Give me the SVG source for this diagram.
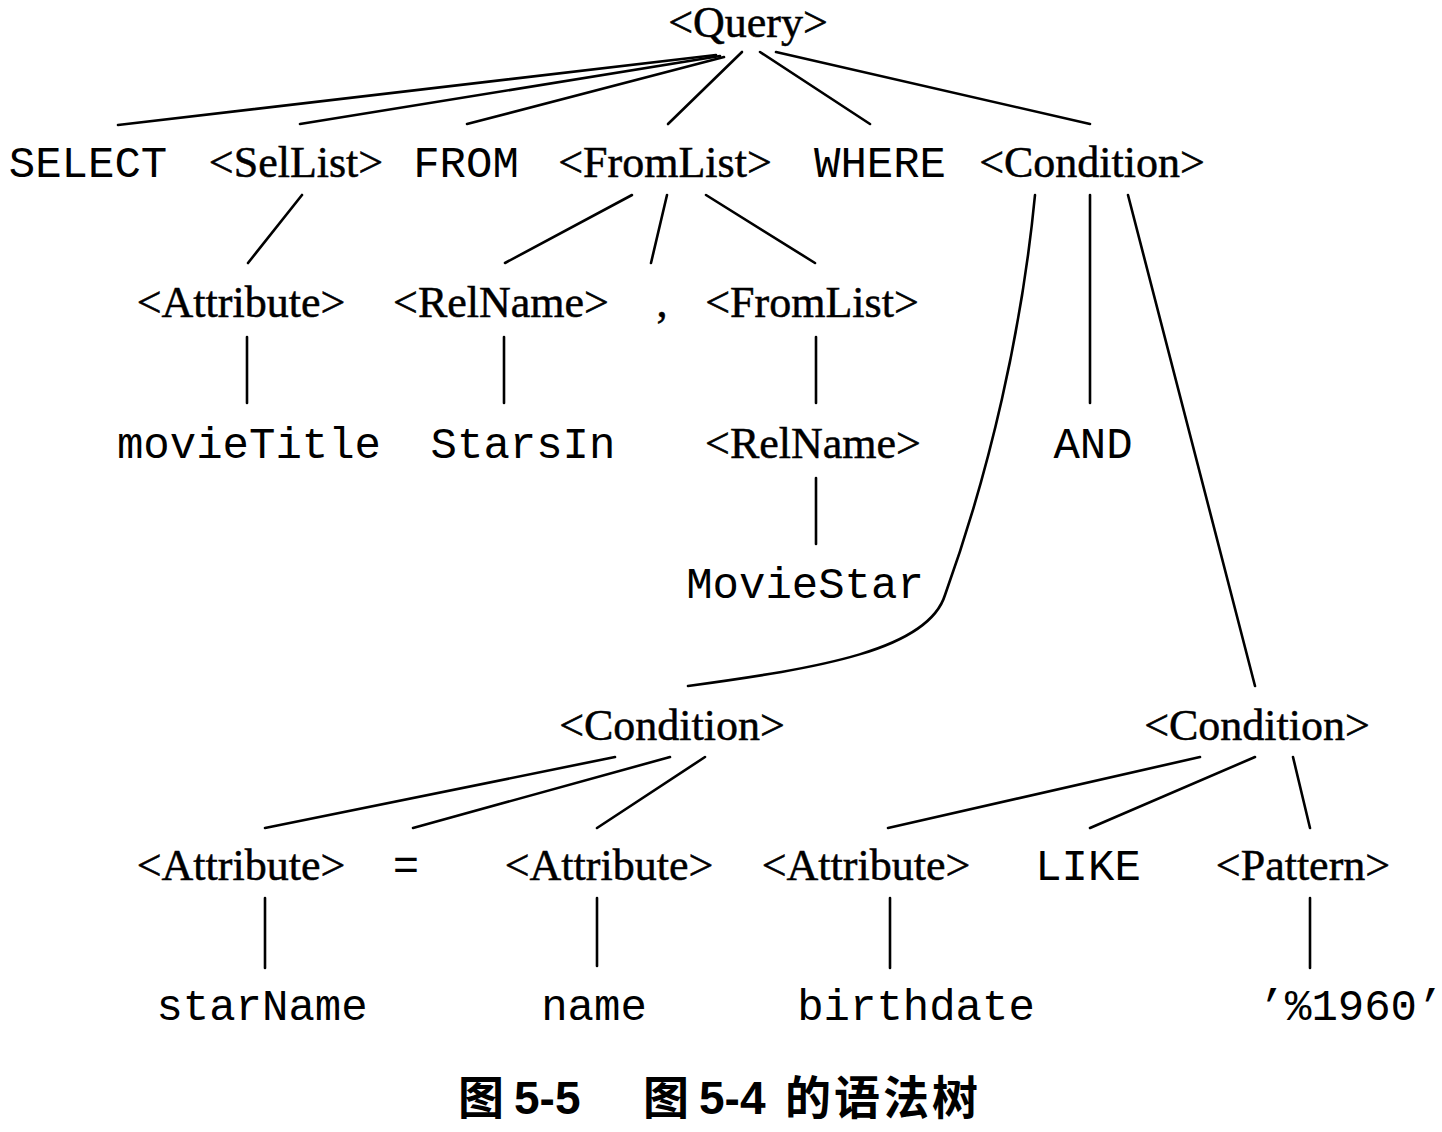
<svg xmlns="http://www.w3.org/2000/svg" width="1442" height="1132" viewBox="0 0 1442 1132">
<style>
.s{font-family:"Liberation Serif","Times New Roman",serif;font-size:44px;fill:#000;stroke:#000;stroke-width:0.5;text-anchor:middle}
.m{font-family:"Liberation Mono","Courier New",monospace;font-size:44px;fill:#000;text-anchor:middle}
.e line,.e path{stroke:#000;stroke-width:2.6;fill:none;stroke-linecap:round}
.c{font-family:"Liberation Sans","Noto Sans CJK SC",sans-serif;font-size:46px;font-weight:bold;fill:#000}
</style>
<rect width="1442" height="1132" fill="#fff"/>
<g id="edges" class="e">
<line x1="716" y1="55" x2="118" y2="125"/>
<line x1="720" y1="56" x2="300" y2="124"/>
<line x1="724" y1="57" x2="467" y2="124"/>
<line x1="742" y1="52" x2="668" y2="124"/>
<line x1="760" y1="52" x2="870" y2="124"/>
<line x1="776" y1="52" x2="1090" y2="124"/>
<line x1="302" y1="195" x2="248" y2="263"/>
<line x1="632" y1="195" x2="505" y2="263"/>
<line x1="667" y1="195" x2="651" y2="263"/>
<line x1="706" y1="195" x2="815" y2="263"/>
<path d="M1035,195 C1022,330 990,470 945,595 C928,650 820,668 688,686"/>
<line x1="1090" y1="195" x2="1090" y2="403"/>
<line x1="1128" y1="195" x2="1255" y2="686"/>
<line x1="247" y1="337" x2="247" y2="403"/>
<line x1="504" y1="337" x2="504" y2="403"/>
<line x1="816" y1="337" x2="816" y2="403"/>
<line x1="816" y1="478" x2="816" y2="544"/>
<line x1="615" y1="757" x2="265" y2="828"/>
<line x1="670" y1="757" x2="413" y2="828"/>
<line x1="705" y1="757" x2="597" y2="828"/>
<line x1="1200" y1="757" x2="888" y2="828"/>
<line x1="1255" y1="757" x2="1090" y2="828"/>
<line x1="1293" y1="757" x2="1310" y2="828"/>
<line x1="265" y1="898" x2="265" y2="968"/>
<line x1="597" y1="898" x2="597" y2="966"/>
<line x1="890" y1="898" x2="890" y2="968"/>
<line x1="1310" y1="898" x2="1310" y2="968"/>
</g>
<g id="n-query"><text class="s" x="748" y="37">&lt;Query&gt;</text></g>
<g id="n-select"><text class="m" x="88" y="177">SELECT</text></g>
<g id="n-sellist"><text class="s" x="296" y="177">&lt;SelList&gt;</text></g>
<g id="n-from"><text class="m" x="466" y="177">FROM</text></g>
<g id="n-fromlist1"><text class="s" x="665" y="177">&lt;FromList&gt;</text></g>
<g id="n-where"><text class="m" x="880" y="177">WHERE</text></g>
<g id="n-cond1"><text class="s" x="1092" y="177">&lt;Condition&gt;</text></g>
<g id="n-attr1"><text class="s" x="241" y="317">&lt;Attribute&gt;</text></g>
<g id="n-relname1"><text class="s" x="501" y="317">&lt;RelName&gt;</text></g>
<g id="n-comma"><text class="s" x="662" y="317">,</text></g>
<g id="n-fromlist2"><text class="s" x="812" y="317">&lt;FromList&gt;</text></g>
<g id="n-movietitle"><text class="m" x="249" y="458">movieTitle</text></g>
<g id="n-starsin"><text class="m" x="523" y="458">StarsIn</text></g>
<g id="n-relname2"><text class="s" x="813" y="458">&lt;RelName&gt;</text></g>
<g id="n-and"><text class="m" x="1093" y="458">AND</text></g>
<g id="n-moviestar"><text class="m" x="805" y="598">MovieStar</text></g>
<g id="n-cond2"><text class="s" x="672" y="740">&lt;Condition&gt;</text></g>
<g id="n-cond3"><text class="s" x="1257" y="740">&lt;Condition&gt;</text></g>
<g id="n-attr2"><text class="s" x="241" y="880">&lt;Attribute&gt;</text></g>
<g id="n-eq"><text class="m" x="406" y="880">=</text></g>
<g id="n-attr3"><text class="s" x="609" y="880">&lt;Attribute&gt;</text></g>
<g id="n-attr4"><text class="s" x="866" y="880">&lt;Attribute&gt;</text></g>
<g id="n-like"><text class="m" x="1088" y="880">LIKE</text></g>
<g id="n-pattern"><text class="s" x="1303" y="880">&lt;Pattern&gt;</text></g>
<g id="n-starname"><text class="m" x="262" y="1020">starName</text></g>
<g id="n-name"><text class="m" x="594" y="1020">name</text></g>
<g id="n-birthdate"><text class="m" x="916" y="1020">birthdate</text></g>
<g id="n-pct"><text class="m" x="1351" y="1020">’%1960’</text></g>
<g id="caption"><text class="c" y="1114"><tspan x="458">图</tspan><tspan x="514">5-5</tspan><tspan x="643">图</tspan><tspan x="699">5-4</tspan><tspan x="785" letter-spacing="3">的语法树</tspan></text></g>
</svg>
